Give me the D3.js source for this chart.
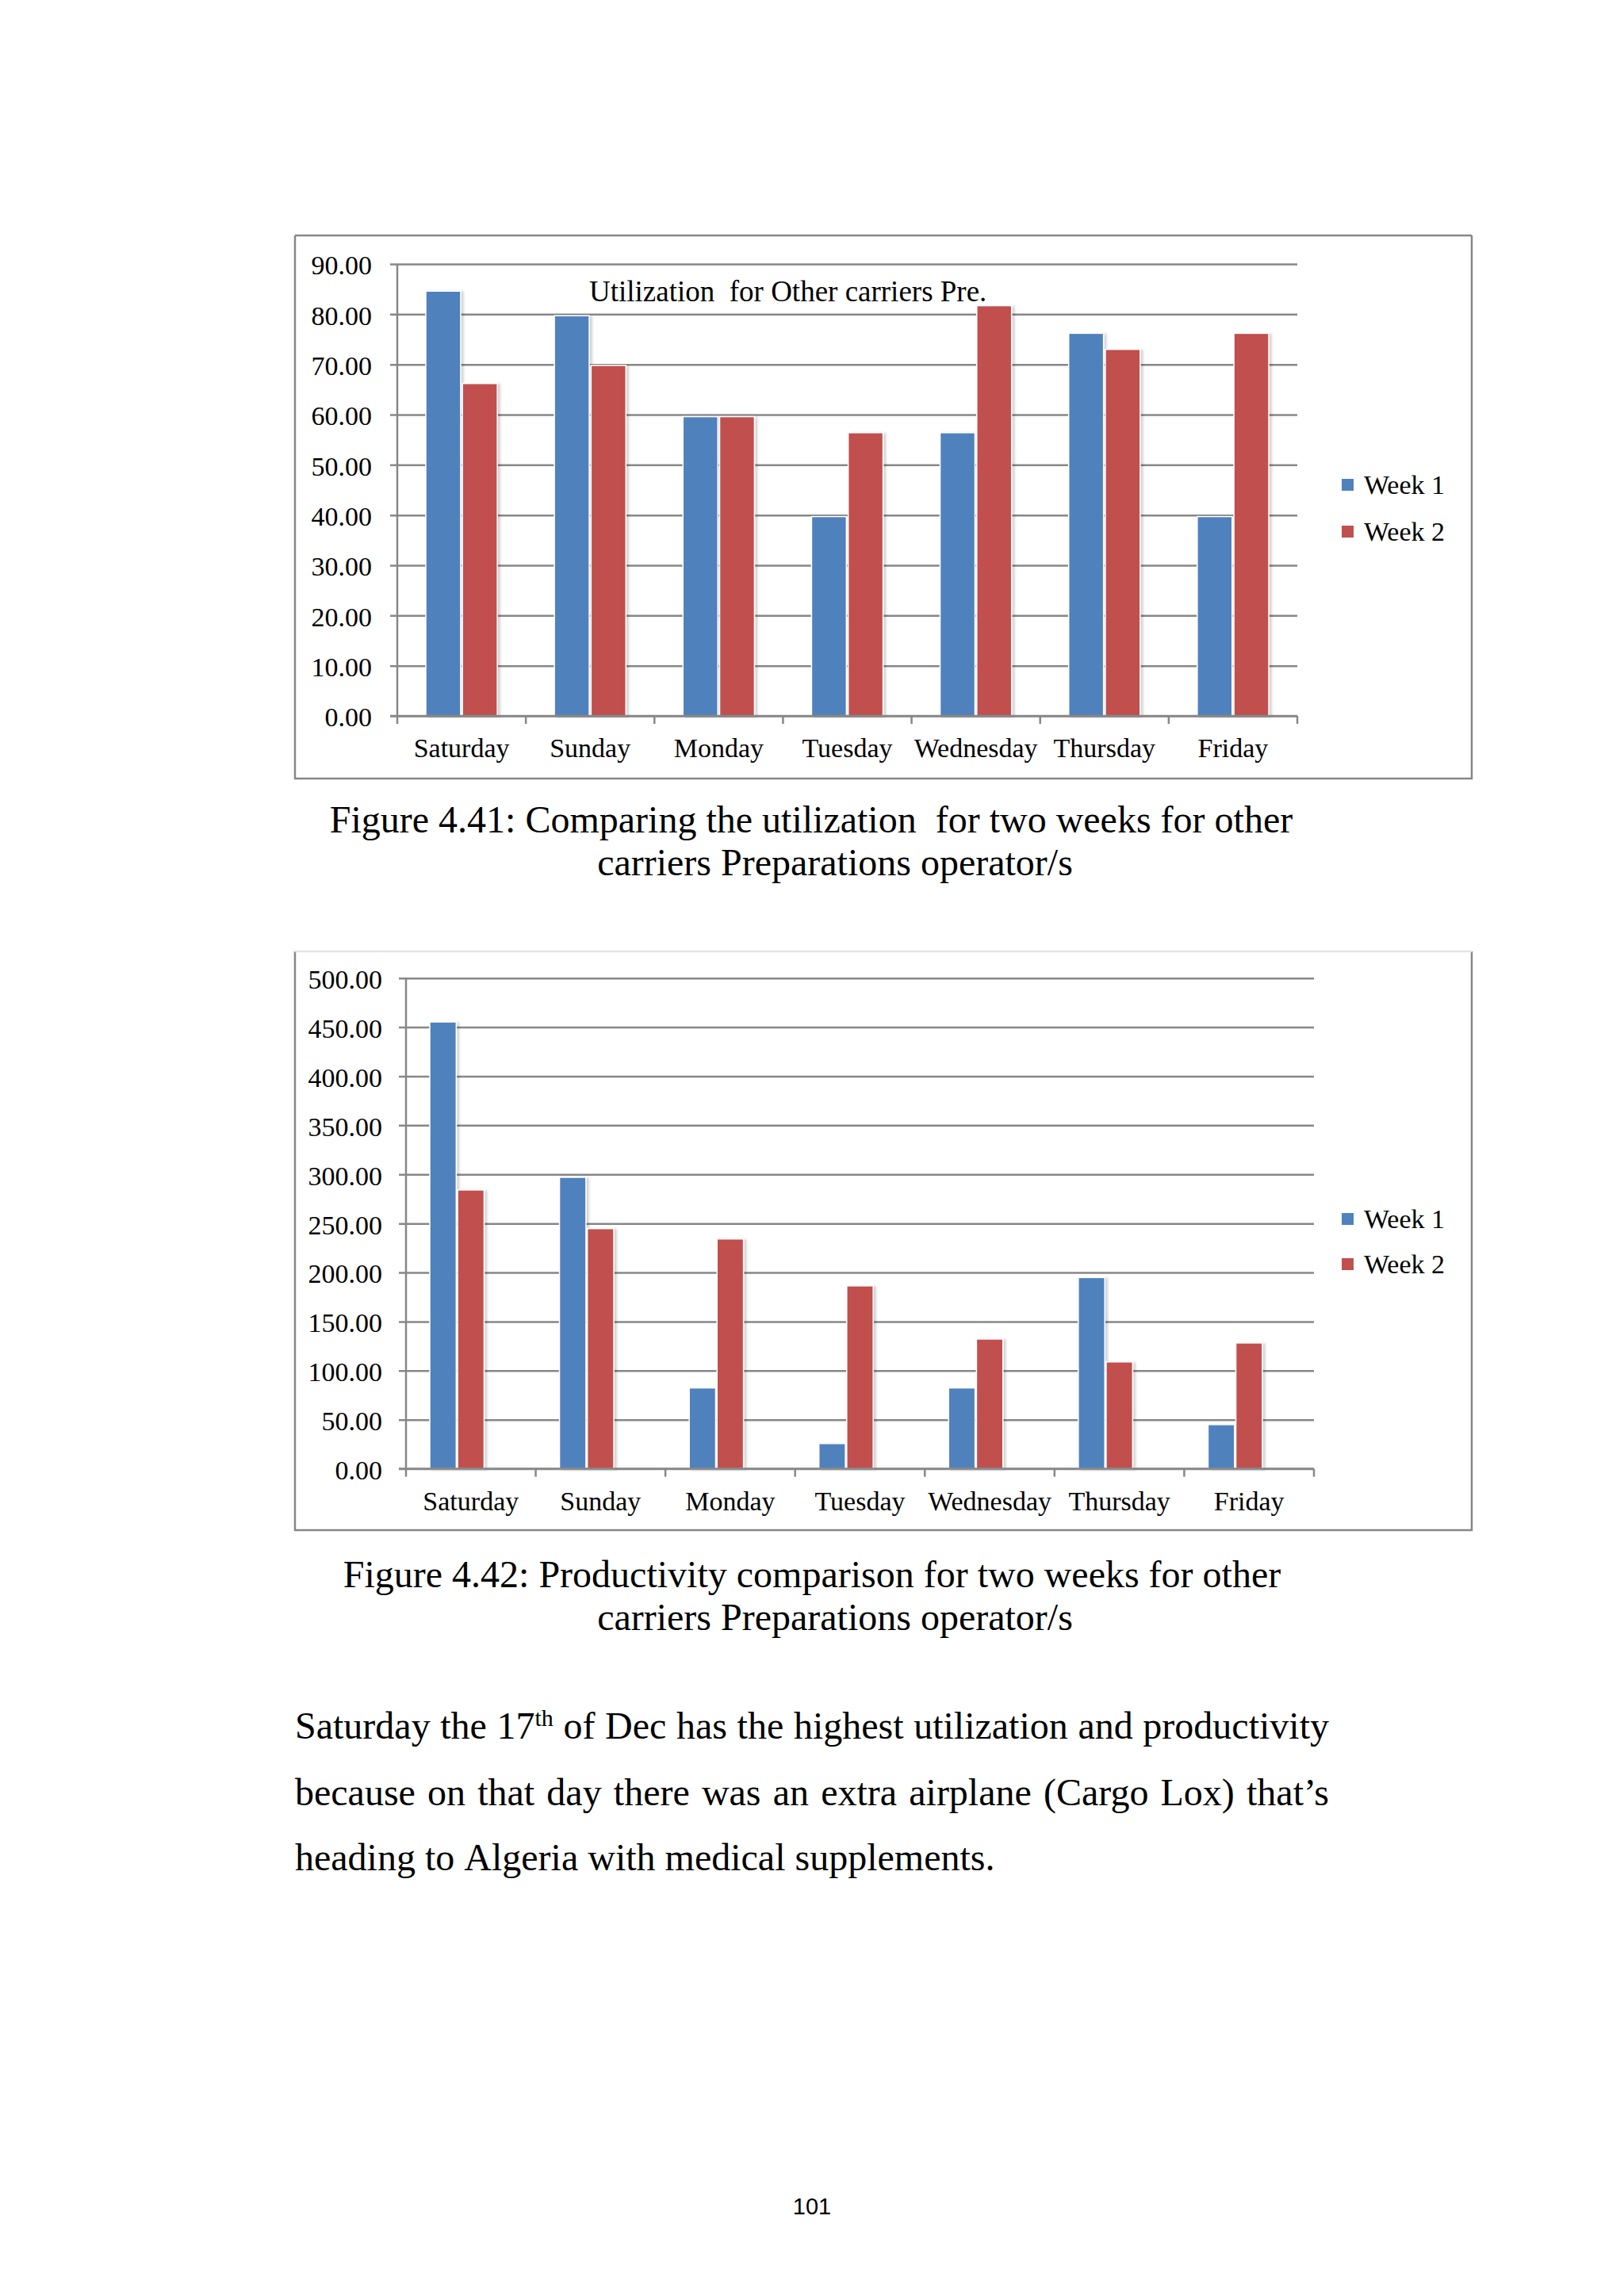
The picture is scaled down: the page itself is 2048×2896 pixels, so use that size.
<!DOCTYPE html>
<html>
<head>
<meta charset="utf-8">
<script src="https://cdn.jsdelivr.net/npm/d3@7"></script>
<style>
  body { margin: 0; background: #fff; }
  text { font-family: "Liberation Serif", "Times New Roman", serif; fill: #000; }
</style>
</head>
<body>
<div id="page"></div>
<script>
// ---- data ----
var days = ["Saturday", "Sunday", "Monday", "Tuesday", "Wednesday", "Thursday", "Friday"];
var seriesNames = ["Week 1", "Week 2"];
var seriesColors = ["#4F81BD", "#C0504D"];

// Figure 4.41 utilization
var utilWeek1 = [84.6, 79.7, 59.6, 39.7, 56.4, 76.2, 39.7];
var utilWeek2 = [66.2, 69.8, 59.6, 56.4, 81.7, 73.0, 76.2];
var utilTicks = [0, 10, 20, 30, 40, 50, 60, 70, 80, 90];

// Figure 4.42 productivity
var prodWeek1 = [455.3, 297.0, 82.4, 25.7, 82.4, 194.9, 45.0];
var prodWeek2 = [284.1, 244.7, 234.2, 186.4, 132.2, 108.9, 128.2];
var prodTicks = [0, 50, 100, 150, 200, 250, 300, 350, 400, 450, 500];

var W = 2048, H = 2896;
var svg = d3.select("#page").append("svg")
    .attr("width", W)
    .attr("height", H);

var defs = svg.append("defs");
defs.append("filter").attr("id", "shadow")
    .attr("x", "-20%").attr("y", "-5%").attr("width", "150%").attr("height", "110%")
  .append("feDropShadow")
    .attr("dx", 3).attr("dy", 1).attr("stdDeviation", 1.5)
    .attr("flood-color", "#000").attr("flood-opacity", 0.18);

var gridColor = "#878787";

function drawChart(cfg) {
  // outer frame
  var f = cfg.frame;
  var frame = svg.append("g");
  frame.append("rect")
      .attr("x", f.x).attr("y", f.y).attr("width", f.w).attr("height", f.h)
      .attr("fill", "#fff").attr("stroke", "none");
  frame.append("path")
      .attr("d", "M" + f.x + "," + f.y + "V" + (f.y + f.h) + "H" + (f.x + f.w) + "V" + f.y)
      .attr("fill", "none").attr("stroke", gridColor).attr("stroke-width", 2.5);
  frame.append("line")
      .attr("x1", f.x).attr("x2", f.x + f.w).attr("y1", f.y).attr("y2", f.y)
      .attr("stroke", cfg.topBorder).attr("stroke-width", 2.5);

  var p = cfg.plot;
  var width = p.right - p.left, height = p.bottom - p.top;
  var g = svg.append("g").attr("transform", "translate(" + p.left + "," + p.top + ")");

  var x0 = d3.scaleBand().domain(days).range([0, width]).padding(0);
  var x1 = d3.scaleBand().domain(cfg.slots)
      .range([cfg.groupOffset, x0.bandwidth() - cfg.groupOffset])
      .paddingInner(0.05);
  var y = d3.scaleLinear().domain([0, cfg.yMax]).range([height, 0]);

  // y axis with gridlines
  var yAxis = g.append("g")
      .call(d3.axisLeft(y)
        .tickValues(cfg.ticks)
        .tickSize(-width)
        .tickSizeOuter(0)
        .tickPadding(cfg.tickPad)
        .tickFormat(d3.format(".2f")));
  yAxis.select(".domain").remove();
  yAxis.selectAll(".tick line")
      .attr("x1", -9)
      .attr("stroke", gridColor).attr("stroke-width", 2.5);
  yAxis.selectAll(".tick text")
      .attr("font-family", "Liberation Serif")
      .attr("font-size", 34)
      .attr("fill", "#000")
      .attr("dy", "0.38em");

  // bars
  var series = cfg.values.map(function(vals, i) {
    return { name: seriesNames[i], color: seriesColors[i], vals: vals };
  });
  var groups = g.selectAll("g.day")
      .data(days)
      .enter().append("g")
      .attr("class", "day")
      .attr("transform", function(d) { return "translate(" + x0(d) + ",0)"; });
  groups.selectAll("rect")
      .data(function(d, di) {
        return series.map(function(s) { return { name: s.name, color: s.color, v: s.vals[di] }; });
      })
      .enter().append("rect")
      .attr("x", function(d) { return x1(d.name); })
      .attr("y", function(d) { return y(d.v); })
      .attr("width", x1.bandwidth())
      .attr("height", function(d) { return height - y(d.v); })
      .attr("fill", function(d) { return d.color; })
      .attr("stroke", "#fff")
      .attr("stroke-width", 1.5)
      .attr("filter", "url(#shadow)");

  // axis lines
  g.append("line")
      .attr("x1", 0).attr("x2", 0).attr("y1", 0).attr("y2", height)
      .attr("stroke", gridColor).attr("stroke-width", 2.5);
  g.append("line")
      .attr("x1", -9).attr("x2", width).attr("y1", height).attr("y2", height)
      .attr("stroke", gridColor).attr("stroke-width", 2.5);

  // category boundary ticks
  var bounds = days.map(function(d) { return x0(d); }).concat([width]);
  g.selectAll("line.ctick")
      .data(bounds)
      .enter().append("line")
      .attr("class", "ctick")
      .attr("x1", function(d) { return d; }).attr("x2", function(d) { return d; })
      .attr("y1", height).attr("y2", height + 10)
      .attr("stroke", gridColor).attr("stroke-width", 2.5);

  // category labels
  var xAxis = g.append("g")
      .attr("transform", "translate(0," + height + ")")
      .call(d3.axisBottom(x0).tickSize(0).tickPadding(0));
  xAxis.select(".domain").remove();
  xAxis.selectAll(".tick text")
      .attr("font-family", "Liberation Serif")
      .attr("font-size", 34)
      .attr("fill", "#000")
      .attr("dy", null)
      .attr("y", cfg.catBaseline);

  // title inside plot
  if (cfg.title) {
    svg.append("text")
        .attr("x", cfg.title.x).attr("y", cfg.title.y)
        .attr("font-size", 37)
        .attr("xml:space", "preserve")
        .text(cfg.title.text);
  }

  // legend
  var lg = svg.append("g").attr("transform", "translate(" + cfg.legend.x + "," + cfg.legend.y + ")");
  var items = lg.selectAll("g").data(seriesNames).enter().append("g")
      .attr("transform", function(d, i) { return "translate(0," + (i * cfg.legend.step) + ")"; });
  items.append("rect")
      .attr("width", 15).attr("height", 15)
      .attr("fill", function(d, i) { return seriesColors[i]; });
  items.append("text")
      .attr("x", 28).attr("y", 19)
      .attr("font-size", 34)
      .text(function(d) { return d; });
}

drawChart({
  frame: { x: 372, y: 297, w: 1484, h: 685 },
  topBorder: gridColor,
  plot: { left: 501, right: 1636, top: 333, bottom: 903 },
  yMax: 90,
  ticks: utilTicks,
  values: [utilWeek1, utilWeek2],
  slots: seriesNames,
  groupOffset: 36,
  tickPad: 32,
  catBaseline: 52,
  title: { x: 743, y: 380, text: "Utilization  for Other carriers Pre." },
  legend: { x: 1692, y: 604, step: 59 }
});

drawChart({
  frame: { x: 372, y: 1200, w: 1484, h: 730 },
  topBorder: "#e4e4e4",
  plot: { left: 512, right: 1657, top: 1233.7, bottom: 1852.6 },
  yMax: 500,
  ticks: prodTicks,
  values: [prodWeek1, prodWeek2],
  slots: ["Week 1", "Week 2", "(empty)"],
  groupOffset: 30,
  tickPad: 30,
  catBaseline: 52,
  title: null,
  legend: { x: 1692, y: 1530, step: 57 }
});

// ---- captions ----
var captions = [
  { x: 1023, y: 1050, text: "Figure 4.41: Comparing the utilization  for two weeks for other" },
  { x: 1053, y: 1104, text: "carriers Preparations operator/s" },
  { x: 1024, y: 2002, text: "Figure 4.42: Productivity comparison for two weeks for other" },
  { x: 1053, y: 2056, text: "carriers Preparations operator/s" }
];
svg.selectAll("text.caption")
    .data(captions)
    .enter().append("text")
    .attr("class", "caption")
    .attr("x", function(d) { return d.x; })
    .attr("y", function(d) { return d.y; })
    .attr("text-anchor", "middle")
    .attr("font-size", 48)
    .attr("xml:space", "preserve")
    .text(function(d) { return d.text; });

// ---- body paragraph, justified ----
var bodyLines = [
  { y: 2193, justify: true, words: ["Saturday", "the", "17^th", "of", "Dec", "has", "the", "highest", "utilization", "and", "productivity"] },
  { y: 2277, justify: true, words: ["because", "on", "that", "day", "there", "was", "an", "extra", "airplane", "(Cargo", "Lox)", "that\u2019s"] },
  { y: 2359, justify: false, words: ["heading", "to", "Algeria", "with", "medical", "supplements."] }
];
var bodyLeft = 372, bodyRight = 1676, spaceW = 12;

bodyLines.forEach(function(line) {
  var nodes = line.words.map(function(w) {
    var t = svg.append("text").attr("y", line.y).attr("font-size", 48);
    if (w.indexOf("^") >= 0) {
      var parts = w.split("^");
      t.append("tspan").text(parts[0]);
      t.append("tspan").attr("font-size", 30).attr("dy", -16).text(parts[1]);
    } else {
      t.text(w);
    }
    return t;
  });
  var widths = nodes.map(function(t) { return t.node().getComputedTextLength(); });
  var total = d3.sum(widths);
  var gap = line.justify ? (bodyRight - bodyLeft - total) / (nodes.length - 1) : spaceW;
  var cx = bodyLeft;
  nodes.forEach(function(t, i) {
    t.attr("x", cx);
    cx += widths[i] + gap;
  });
});

// page number
svg.append("text")
    .attr("x", 1024).attr("y", 2793)
    .attr("text-anchor", "middle")
    .style("font-family", "'Liberation Sans', sans-serif")
    .attr("font-size", 29)
    .text("101");
</script>
</body>
</html>
